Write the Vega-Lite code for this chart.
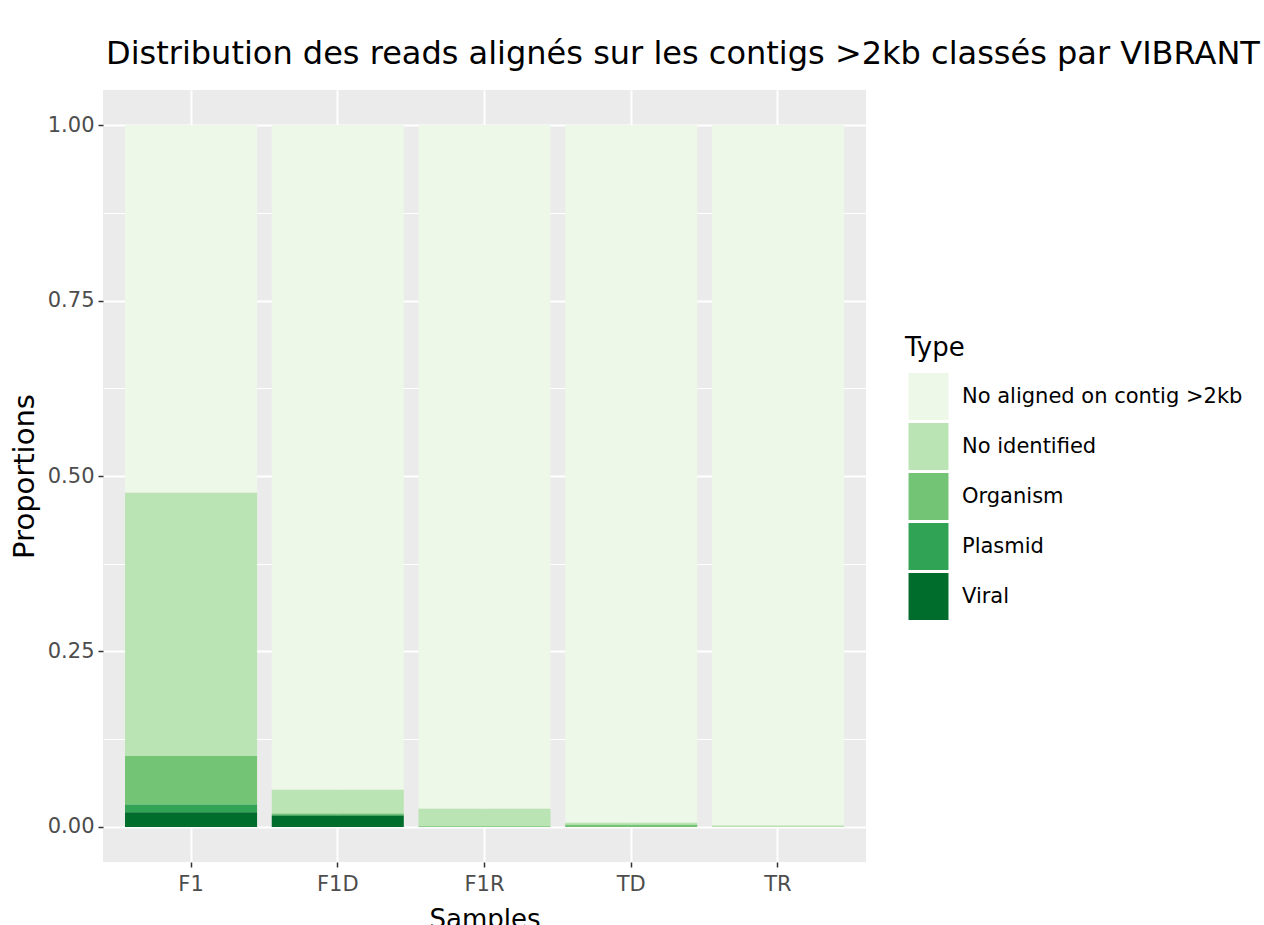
{
  "$schema": "https://vega.github.io/schema/vega-lite/v6.json",
  "width": 763,
  "height": 772,
  "autosize": {"type": "none"},
  "padding": {"left": 103, "top": 90, "right": 398, "bottom": 63},
  "background": "white",
  "title": {
    "text": "Distribution des reads alignés sur les contigs >2kb classés par VIBRANT",
    "anchor": "start",
    "frame": "group",
    "font": "DejaVu Sans",
    "fontSize": 32,
    "fontWeight": "normal",
    "color": "black",
    "offset": 19,
    "dx": 3
  },
  "data": {
    "values": [
      {"Samples": "F1", "Type": "No aligned on contig >2kb", "Proportions": 0.524},
      {"Samples": "F1", "Type": "No identified", "Proportions": 0.375},
      {"Samples": "F1", "Type": "Organism", "Proportions": 0.069},
      {"Samples": "F1", "Type": "Plasmid", "Proportions": 0.011},
      {"Samples": "F1", "Type": "Viral", "Proportions": 0.021},
      {"Samples": "F1D", "Type": "No aligned on contig >2kb", "Proportions": 0.947},
      {"Samples": "F1D", "Type": "No identified", "Proportions": 0.034},
      {"Samples": "F1D", "Type": "Organism", "Proportions": 0.002},
      {"Samples": "F1D", "Type": "Plasmid", "Proportions": 0.001},
      {"Samples": "F1D", "Type": "Viral", "Proportions": 0.016},
      {"Samples": "F1R", "Type": "No aligned on contig >2kb", "Proportions": 0.974},
      {"Samples": "F1R", "Type": "No identified", "Proportions": 0.025},
      {"Samples": "F1R", "Type": "Organism", "Proportions": 0.001},
      {"Samples": "F1R", "Type": "Plasmid", "Proportions": 0.0},
      {"Samples": "F1R", "Type": "Viral", "Proportions": 0.0},
      {"Samples": "TD", "Type": "No aligned on contig >2kb", "Proportions": 0.994},
      {"Samples": "TD", "Type": "No identified", "Proportions": 0.003},
      {"Samples": "TD", "Type": "Organism", "Proportions": 0.003},
      {"Samples": "TD", "Type": "Plasmid", "Proportions": 0.0},
      {"Samples": "TD", "Type": "Viral", "Proportions": 0.0},
      {"Samples": "TR", "Type": "No aligned on contig >2kb", "Proportions": 0.998},
      {"Samples": "TR", "Type": "No identified", "Proportions": 0.002},
      {"Samples": "TR", "Type": "Organism", "Proportions": 0.0},
      {"Samples": "TR", "Type": "Plasmid", "Proportions": 0.0},
      {"Samples": "TR", "Type": "Viral", "Proportions": 0.0}
    ]
  },
  "mark": {"type": "bar", "strokeWidth": 0},
  "encoding": {
    "x": {
      "field": "Samples",
      "type": "nominal",
      "sort": ["F1", "F1D", "F1R", "TD", "TR"],
      "scale": {"paddingInner": 0.1, "paddingOuter": 0.15},
      "axis": {
        "labelAngle": 0,
        "grid": true,
        "gridColor": "white",
        "gridWidth": 2,
        "domain": false,
        "tickColor": "#333333",
        "tickWidth": 1.5,
        "tickSize": 5,
        "labelColor": "#4d4d4d",
        "labelFont": "DejaVu Sans",
        "labelFontSize": 21,
        "labelPadding": 6,
        "title": "Samples",
        "titleFont": "DejaVu Sans",
        "titleFontSize": 26,
        "titleFontWeight": "normal",
        "titleColor": "black",
        "titlePadding": 12
      }
    },
    "y": {
      "field": "Proportions",
      "type": "quantitative",
      "stack": "zero",
      "scale": {"domain": [-0.05, 1.05], "nice": false, "zero": false},
      "axis": {
        "values": [0, 0.125, 0.25, 0.375, 0.5, 0.625, 0.75, 0.875, 1],
        "labelExpr": "abs(datum.value*4 - round(datum.value*4)) < 0.001 ? format(datum.value, '.2f') : ''",
        "grid": true,
        "gridColor": "white",
        "gridWidth": {"condition": {"test": "abs(datum.value*4 - round(datum.value*4)) < 0.001", "value": 2}, "value": 1},
        "tickOpacity": {"condition": {"test": "abs(datum.value*4 - round(datum.value*4)) < 0.001", "value": 1}, "value": 0},
        "domain": false,
        "tickColor": "#333333",
        "tickWidth": 1.5,
        "tickSize": 5,
        "labelColor": "#4d4d4d",
        "labelFont": "DejaVu Sans",
        "labelFontSize": 21,
        "labelPadding": 4,
        "title": "Proportions",
        "titleFont": "DejaVu Sans",
        "titleFontSize": 29,
        "titleFontWeight": "normal",
        "titleColor": "black",
        "titlePadding": 8
      }
    },
    "color": {
      "field": "Type",
      "type": "nominal",
      "scale": {
        "domain": ["No aligned on contig >2kb", "No identified", "Organism", "Plasmid", "Viral"],
        "range": ["#edf8e9", "#bae4b3", "#74c476", "#31a354", "#006d2c"]
      },
      "legend": {
        "orient": "none",
        "legendX": 802,
        "legendY": 245,
        "title": "Type",
        "titleFont": "DejaVu Sans",
        "titleFontSize": 26,
        "titleFontWeight": "normal",
        "titleColor": "black",
        "titlePadding": 12,
        "labelFont": "DejaVu Sans",
        "labelFontSize": 21,
        "labelColor": "black",
        "labelOffset": 10,
        "symbolType": "M-0.85,-1H0.85V1H-0.85Z",
        "symbolSize": 2209,
        "symbolStrokeWidth": 0,
        "symbolOpacity": 1,
        "rowPadding": 3,
        "labelLimit": 400
      }
    },
    "order": {"field": "Type", "sort": "descending"}
  },
  "config": {
    "view": {"fill": "#ebebeb", "stroke": null}
  }
}
